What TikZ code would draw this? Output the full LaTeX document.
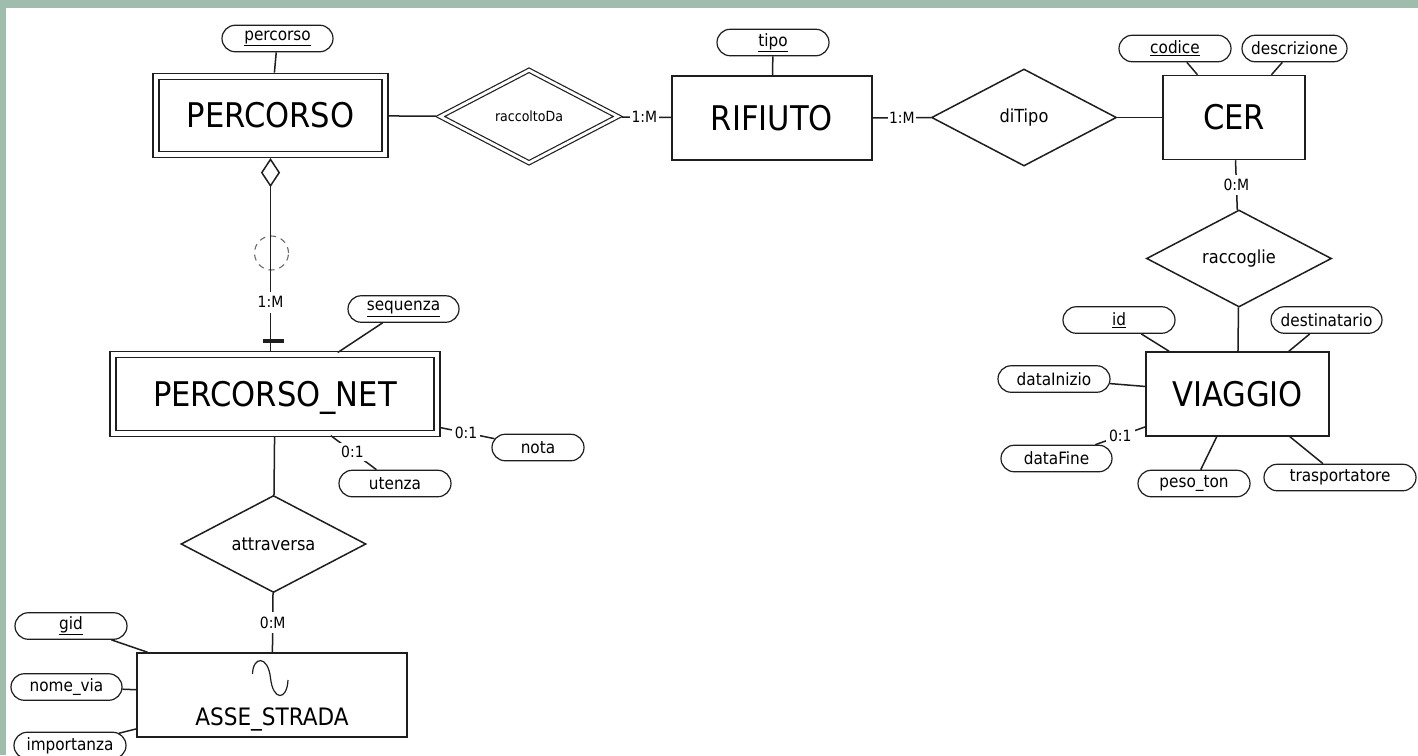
\documentclass[tikz,border=0pt]{standalone}
\usepackage{fontspec}
\setmainfont{DejaVu Sans Condensed}
\usepackage{tikz}
\usetikzlibrary{shapes.geometric,shapes.misc}
\usetikzlibrary{positioning}
\usetikzlibrary{calc}

\definecolor{bggreen}{RGB}{160,188,172}
\definecolor{inkgray}{RGB}{30,30,30}
\definecolor{ringgray}{RGB}{110,110,110}

\newcommand{\entfont}{\fontsize{34}{38}\selectfont}
\newcommand{\assefont}{\fontsize{24}{28}\selectfont}
\newcommand{\relfont}{\fontsize{18}{20}\selectfont}
\newcommand{\smallrelfont}{\fontsize{14}{16}\selectfont}
\newcommand{\attrfont}{\fontsize{17}{19}\selectfont}
\newcommand{\cardfont}{\fontsize{15.5}{17}\selectfont}
\newcommand{\attrkey}[1]{\underline{#1}}

\tikzset{
    entity/.style={draw=inkgray, fill=white, minimum height=84pt, inner sep=0pt,
        text height=24.8pt, text depth=0pt, font=\entfont},
    weakentity/.style={entity, line width=1.2pt, double=white, double distance=4.8pt, minimum height=78.5pt},
    relation/.style={diamond, aspect=2, draw=inkgray, fill=white, inner sep=0pt,
        minimum width=185pt, minimum height=97pt, font=\relfont},
    weakrelation/.style={relation, line width=1.2pt, double=white, double distance=2.8pt,
        minimum width=178pt, minimum height=93pt, font=\smallrelfont},
    attribute/.style={rounded rectangle, draw=inkgray, fill=white, line width=1.2pt,
        minimum width=113pt, minimum height=26.5pt, inner sep=1pt, font=\attrfont},
    link/.style={draw=inkgray},
    card/.style={fill=white, inner sep=1.5pt, font=\cardfont},
    aggmark/.style={diamond, draw=inkgray, fill=white, inner sep=0pt,
        minimum width=18pt, minimum height=27pt},
    ring/.style={circle, draw=ringgray, dash pattern=on 6pt off 5pt, line width=1.1pt,
        minimum size=34pt, inner sep=0pt},
}

\begin{document}
\begin{tikzpicture}[x=1pt, y=-1pt, line width=1.5pt]
    \useasboundingbox (0,0) rectangle (1418,755);
    \fill[bggreen] (0,0) rectangle (1418,755);
    \fill[white] (6,8) rectangle (1418,755);

    % entita
    \node[weakentity, minimum width=229pt] (percorso) at (270.5,115.5) {PERCORSO};
    \node[entity, minimum width=200pt] (rifiuto) at (772,118) {RIFIUTO};
    \node[entity, minimum width=142pt] (cer) at (1234,117.5) {CER};
    \node[entity, minimum width=183pt] (viaggio) at (1237.5,394) {VIAGGIO};
    \node[weakentity, minimum width=324pt] (percnet) at (275,394) {PERCORSO\_NET};
    \node[entity, minimum width=270pt] (asse) at (272,695) {};
    \node[font=\assefont, text height=17.5pt, text depth=0pt, inner sep=0pt] (assename)
        at ($(asse.center)+(0,22)$) {ASSE\_STRADA};
    \draw[inkgray, line width=1.2pt] ($(asse.center)+(-19.5,-21)$)
        .. controls +(0.5,-18) and +(-2.5,-23) .. ($(asse.center)+(-1.5,-17)$)
        .. controls +(2.5,23) and +(-1,21) .. ($(asse.center)+(16,-15)$);

    % relazioni
    \node[weakrelation] (raccoltoda) at (529,116.5) {raccoltoDa};
    \node[relation] (ditipo) at (1024,117.5) {diTipo};
    \node[relation] (raccoglie) at (1239,258.5) {raccoglie};
    \node[relation] (attraversa) at (273.5,544) {attraversa};

    % attributi
    \node[attribute] (apercorso) at (277.5,38.5) {\attrkey{percorso}};
    \node[attribute, minimum width=114pt] (atipo) at (773,42.5) {\attrkey{tipo}};
    \node[attribute, minimum width=114pt] (acodice) at (1175,48.5) {\attrkey{codice}};
    \node[attribute, minimum width=107pt] (adescr) at (1294.5,48.5) {descrizione};
    \node[attribute] (aseq) at (403.5,309) {\attrkey{sequenza}};
    \node[attribute, minimum width=94pt] (anota) at (538,447.5) {nota};
    \node[attribute, minimum width=114pt] (autenza) at (395,483.5) {utenza};
    \node[attribute, minimum width=114pt] (aid) at (1119,320) {\attrkey{id}};
    \node[attribute] (adest) at (1326.5,320) {destinatario};
    \node[attribute, minimum width=114pt] (ainizio) at (1054,379) {dataInizio};
    \node[attribute] (afine) at (1056.5,458.5) {dataFine};
    \node[attribute, minimum width=114pt] (apeso) at (1194,483.5) {peso\_ton};
    \node[attribute, minimum width=154pt] (atrasp) at (1340,477.5) {trasportatore};
    \node[attribute, minimum width=114pt] (agid) at (71,626) {\attrkey{gid}};
    \node[attribute] (avia) at (66.5,687) {nome\_via};
    \node[attribute, minimum width=114pt] (aimp) at (70,745.5) {importanza};

    % percorso -> percorso_net
    \node[aggmark, below=3pt of percorso] (agg) {};
    \node[ring] (ring) at (271.5,253) {};
    \draw[link, shorten >=2.2pt] (agg) -- node[card, pos=0.69, inner ysep=5pt] {1:M} (agg |- percnet.north);
    \draw[inkgray, line width=4.5pt] ($(agg |- percnet.north)+(-8,-13)$) -- ++(21,0);

    % collegamenti
    \draw[link, shorten >=3pt] (apercorso) -- (percorso);
    \draw[link, shorten <=3pt, shorten >=4pt] (percorso) -- (raccoltoda);
    \draw[link, shorten <=4pt] (raccoltoda) -- node[card] {1:M} (rifiuto);
    \draw[link] (rifiuto) -- node[card] {1:M} (ditipo);
    \draw[link] (ditipo) -- (cer);
    \draw[link] (cer) -- node[card, inner ysep=4pt] {0:M} (raccoglie);
    \draw[link] (raccoglie) -- (viaggio);
    \draw[link] (atipo) -- (rifiuto);
    \draw[link] (acodice) -- (cer);
    \draw[link] (adescr) -- (cer);
    \foreach \a in {aid,adest,ainizio,apeso,atrasp}
        \draw[link] (\a) -- (viaggio);
    \draw[link] (viaggio) -- node[card, inner sep=3pt] {0:1} (afine);
    \draw[link, shorten >=3pt] (aseq) -- (percnet);
    \draw[link, shorten <=3pt] (percnet) -- node[card, inner sep=3pt] {0:1} (anota);
    \draw[link, shorten <=3pt] (percnet) -- node[card, inner sep=3pt] {0:1} (autenza);
    \draw[link, shorten <=3pt] (percnet) -- (attraversa);
    \draw[link] (attraversa) -- node[card, inner ysep=5pt] {0:M} (asse);
    \foreach \a in {agid,avia,aimp}
        \draw[link] (\a) -- (asse);
\end{tikzpicture}
\end{document}
